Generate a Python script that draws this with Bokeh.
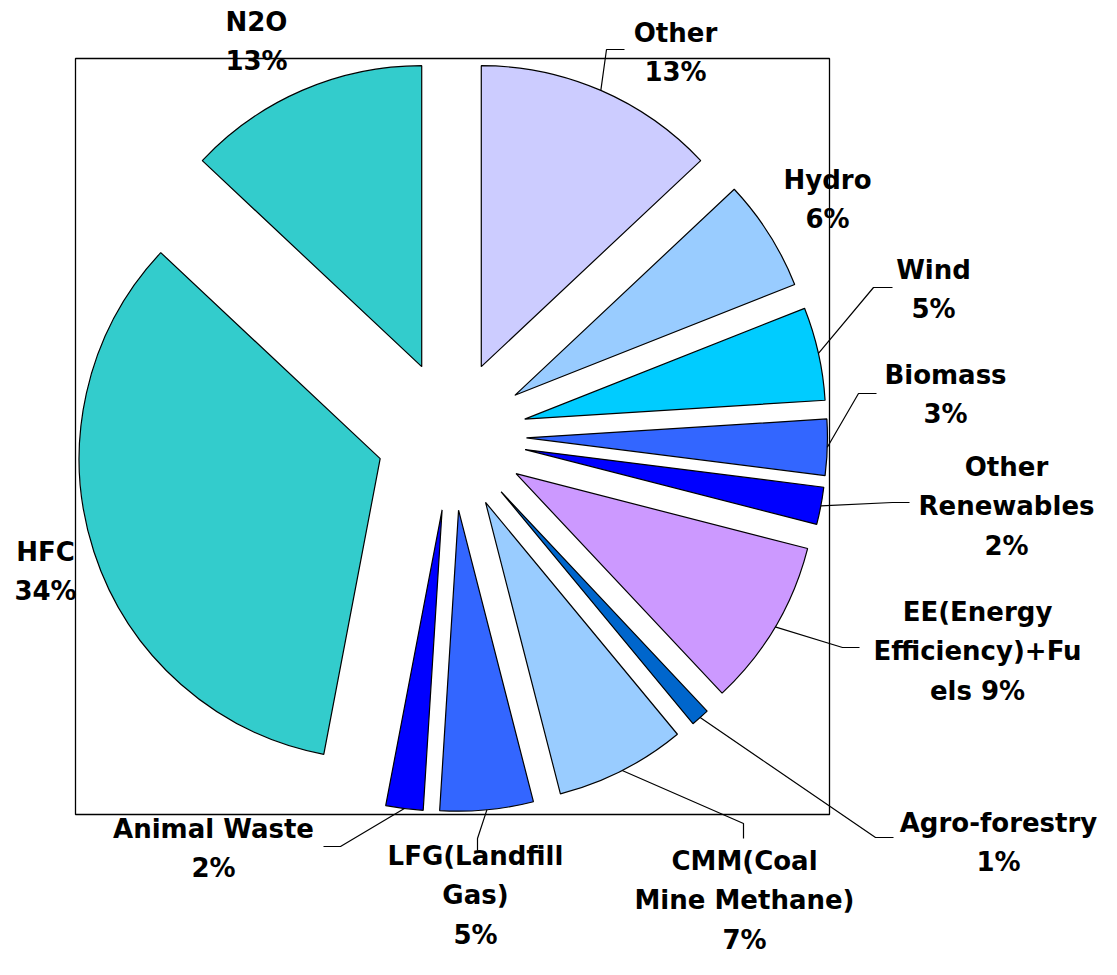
import math
from bokeh.plotting import figure
from bokeh.models import Range1d, ColumnDataSource
from bokeh.embed import file_html
from bokeh.resources import INLINE
from bokeh.core.properties import value

# ---------------- data ----------------
categories = ["Other", "Hydro", "Wind", "Biomass", "Other\nRenewables",
              "EE(Energy\nEfficiency)+Fu\nels", "Agro-forestry",
              "CMM(Coal\nMine Methane)", "LFG(Landfill\nGas)", "Animal Waste",
              "HFC", "N2O"]
shares = [13, 6, 5, 3, 2, 9, 1, 7, 5, 2, 34, 13]
pct_sep = ["\n", "\n", "\n", "\n", "\n", " ", "\n", "\n", "\n", "\n", "\n", "\n"]
colors = ["#CCCCFF", "#99CCFF", "#00CCFF", "#3366FF", "#0000FF", "#CC99FF",
          "#0066CC", "#99CCFF", "#3366FF", "#0000FF", "#33CCCC", "#33CCCC"]

# ---------------- layout (picture pixels) ----------------
W, H = 1101, 959
SCREEN_H = 975
CX, CY = 451, 435          # pie centre
RADIUS = 301
EXPLODE = 75
FRAME = (75, 58, 829, 814)  # left, top, right, bottom

label_pos = [(675, 52), (827, 199), (933, 289), (945, 394), (1006, 506),
             (977, 651), (998, 842), (744, 900), (475, 895), (213, 848),
             (45, 571), (256, 41)]
leader_pts = [[(606, 49), (624, 49)], None, [(873, 287), (892, 287)],
              [(858, 393), (876, 393)], [(892, 502), (909, 502)],
              [(842, 647), (859, 647)], [(875, 837), (893, 837)],
              [(743, 823), (743, 838)], [(477, 838), (477, 850)],
              [(340, 846), (323, 846)], None, None]


def fy(y):
    return SCREEN_H - y


p = figure(width=W, height=H, output_backend="svg", toolbar_location=None,
           x_range=Range1d(0, W), y_range=Range1d(SCREEN_H - H, SCREEN_H),
           min_border=0, outline_line_color=None)
p.axis.visible = False
p.grid.visible = False
p.background_fill_color = "white"
p.border_fill_color = "white"

# plot-area frame
l, t, r, b = FRAME
p.quad(left=[l], right=[r], top=[fy(t)], bottom=[fy(b)], fill_color=None,
       line_color="black", line_width=1.3)

total = sum(shares)
xs, ys, sa, ea, mids = [], [], [], [], []
cum = 0.0
for v in shares:
    f0 = cum / total
    f1 = (cum + v) / total
    fm = (f0 + f1) / 2
    cum += v
    mid = math.pi / 2 - 2 * math.pi * fm
    xs.append(CX + EXPLODE * math.cos(mid))
    ys.append(fy(CY) + EXPLODE * math.sin(mid))
    sa.append(math.pi / 2 - 2 * math.pi * f0)
    ea.append(math.pi / 2 - 2 * math.pi * f1)
    mids.append(mid)

src = ColumnDataSource(dict(x=xs, y=ys, start=sa, end=ea, color=colors))
p.wedge(x="x", y="y", radius=RADIUS, start_angle="start", end_angle="end",
        direction="clock", fill_color="color", line_color="black",
        line_width=1.2, source=src)

# leader lines
for i, pts in enumerate(leader_pts):
    if pts is None:
        continue
    sx = xs[i] + RADIUS * math.cos(mids[i])
    sy = ys[i] + RADIUS * math.sin(mids[i])
    lx = [sx] + [q[0] for q in pts]
    ly = [sy] + [fy(q[1]) for q in pts]
    p.line(lx, ly, line_color="black", line_width=1.2)

labels = [c + s + f"{v}%" for c, s, v in zip(categories, pct_sep, shares)]
lsrc = ColumnDataSource(dict(x=[q[0] for q in label_pos],
                             y=[fy(q[1]) for q in label_pos], text=labels))
p.text(x="x", y="y", text="text", source=lsrc, text_align="center",
       text_baseline="middle", text_font=value("DejaVu Sans"),
       text_font_style="bold", text_font_size="26px", text_color="black",
       text_line_height=1.31)

open("out.html", "w").write(file_html(p, INLINE))
